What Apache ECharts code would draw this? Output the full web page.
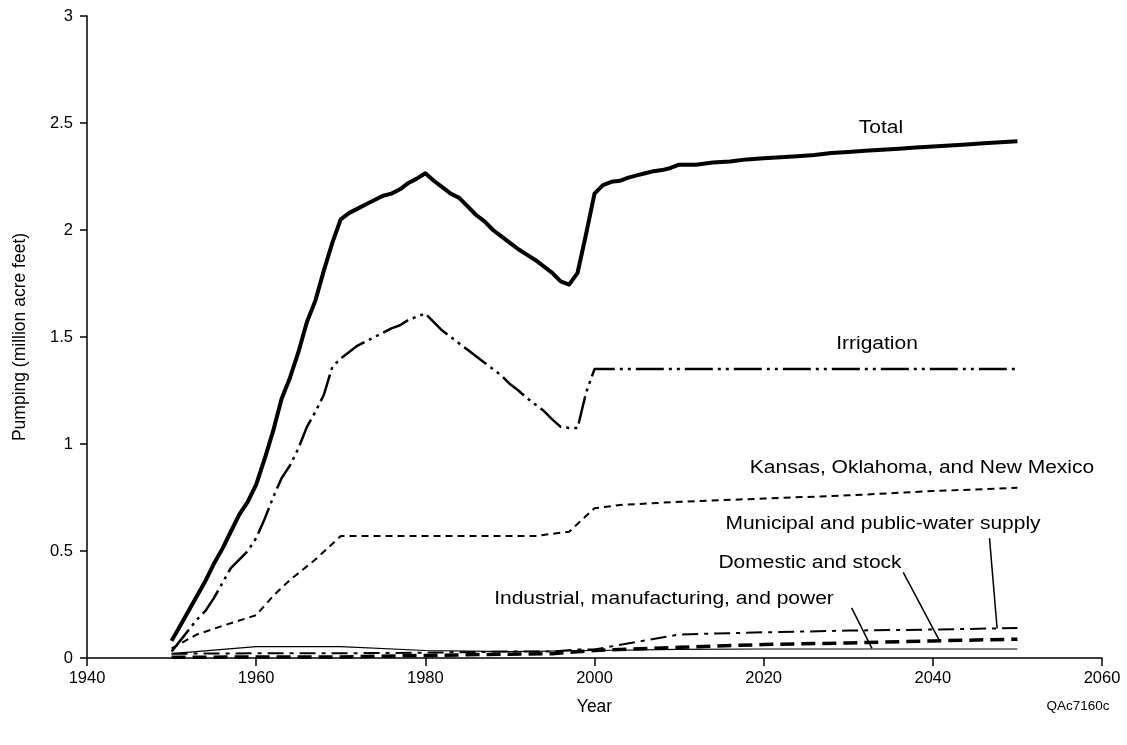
<!DOCTYPE html>
<html>
<head>
<meta charset="utf-8">
<script src="https://cdn.jsdelivr.net/npm/echarts@6/dist/echarts.min.js"></script>
<style>
  html, body { margin: 0; padding: 0; background: #fff; }
  #chart { width: 1127px; height: 745px; }
</style>
</head>
<body>
<div id="chart"></div>
<script>
// years / values
var totalYears = [1950,1951,1952,1953,1954,1955,1956,1957,1958,1959,1960,1961,1962,1963,1964,1965,1966,1967,1968,1969,
  1970,1971,1972,1973,1974,1975,1976,1977,1978,1979,1980,1981,1982,1983,1984,1985,1986,1987,1988,1989,
  1990,1991,1992,1993,1994,1995,1996,1997,1998,1999,2000,2001,2002,2003,2004,2005,2006,2007,2008,2009,
  2010,2012,2014,2016,2018,2020,2022,2024,2026,2028,2030,2032,2034,2036,2038,2040,2042,2044,2046,2048,2050];
var totalValues = [0.08,0.15,0.22,0.29,0.36,0.44,0.51,0.59,0.67,0.73,0.81,0.93,1.06,1.21,1.31,1.43,1.57,1.67,1.81,1.94,
  2.05,2.08,2.10,2.12,2.14,2.16,2.17,2.19,2.22,2.24,2.265,2.23,2.20,2.17,2.15,2.11,2.07,2.04,2.00,1.97,
  1.94,1.91,1.885,1.86,1.83,1.80,1.76,1.745,1.80,1.98,2.17,2.21,2.225,2.23,2.245,2.255,2.265,2.275,2.28,2.29,
  2.305,2.305,2.315,2.32,2.33,2.335,2.34,2.345,2.35,2.36,2.365,2.37,2.375,2.38,2.385,2.39,2.395,2.40,2.405,2.41,2.415];

var irrigationYears = [1950,1951,1952,1953,1954,1955,1956,1957,1958,1959,1960,1961,1962,1963,1964,1965,1966,1967,1968,1969,
  1970,1971,1972,1973,1974,1975,1976,1977,1978,1979,1980,1981,1982,1983,1984,1985,1986,1987,1988,1989,
  1990,1991,1992,1993,1994,1995,1996,1997,1998,1999,2000,2050];
var irrigationValues = [0.03,0.08,0.13,0.18,0.22,0.28,0.35,0.42,0.46,0.50,0.56,0.65,0.75,0.84,0.90,0.98,1.08,1.15,1.23,1.36,
  1.40,1.43,1.46,1.48,1.50,1.52,1.54,1.555,1.58,1.595,1.61,1.57,1.53,1.50,1.47,1.44,1.41,1.38,1.35,1.32,
  1.28,1.25,1.215,1.185,1.155,1.115,1.08,1.075,1.075,1.24,1.35,1.35];

var ksYears = [1950,1953,1956,1960,1962,1964,1967,1970,1993,1997,2000,2003,2010,2020,2030,2040,2050];
var ksValues = [0.045,0.11,0.15,0.20,0.29,0.365,0.46,0.57,0.57,0.59,0.70,0.715,0.73,0.745,0.76,0.78,0.795];

var muniYears = [1950,1960,1970,1980,1990,1995,1998,2000,2010,2020,2030,2040,2050];
var muniValues = [0.02,0.022,0.022,0.025,0.03,0.03,0.04,0.04,0.11,0.12,0.128,0.133,0.14];

var domYears = [1950,1960,1970,1980,1990,1995,2000,2010,2020,2030,2040,2050];
var domValues = [0.003,0.005,0.005,0.012,0.018,0.02,0.035,0.05,0.063,0.07,0.08,0.088];

var indYears = [1950,1960,1970,1980,1990,2000,2010,2020,2050];
var indValues = [0.02,0.053,0.053,0.035,0.03,0.035,0.04,0.042,0.042];

var yTicks = ['0','0.5','1','1.5','2','2.5','3'];
var xTicks = ['1940','1960','1980','2000','2020','2040','2060'];

function pairs(xs, ys) {
  return xs.map(function (x, i) { return [x, ys[i]]; });
}

var FONT = 'Liberation Sans, Arial, sans-serif';

function note(text, cx, cy) {
  return {
    type: 'text', x: cx, y: cy, scaleX: 1.2,
    style: { text: text, x: 0, y: 0, align: 'center', verticalAlign: 'middle',
      fontFamily: FONT, fontSize: 17.5, fill: '#000' }
  };
}

function leader(from, to) {
  return { markLine: {
    silent: true, symbol: 'none', animation: false, label: { show: false },
    lineStyle: { color: '#000', width: 1.5, type: 'solid' },
    data: [[{ coord: from }, { coord: to }]]
  }};
}

var chart = echarts.init(document.getElementById('chart'));

function line(name, xs, ys, width, type, extra) {
  var s = {
    name: name, type: 'line', data: pairs(xs, ys), showSymbol: false, symbol: 'none',
    animation: false, z: 3,
    lineStyle: { color: '#000', width: width, type: type, cap: 'butt', join: 'round' }
  };
  return Object.assign(s, extra || {});
}

chart.setOption({
  backgroundColor: '#fff',
  grid: { left: 87, right: 25, top: 16, bottom: 87 },
  xAxis: {
    type: 'value', min: 1940, max: 2060, interval: 20,
    name: 'Year', nameLocation: 'middle', nameGap: 40,
    nameTextStyle: { fontFamily: FONT, fontSize: 17.5, color: '#000' },
    axisLine: { lineStyle: { color: '#000', width: 1.5 } },
    axisTick: { show: true, inside: false, length: 8, lineStyle: { color: '#000', width: 1.5 } },
    axisLabel: {
      color: '#000', fontFamily: FONT, fontSize: 16.5, margin: 12,
      formatter: function (v) { return xTicks[Math.round((v - 1940) / 20)]; }
    },
    splitLine: { show: false }
  },
  yAxis: {
    type: 'value', min: 0, max: 3, interval: 0.5,
    name: 'Pumping (million acre feet)', nameLocation: 'middle', nameGap: 58, nameRotate: 90,
    nameTextStyle: { fontFamily: FONT, fontSize: 17.5, color: '#000' },
    axisLine: { show: true, lineStyle: { color: '#000', width: 1.5 } },
    axisTick: { show: true, inside: false, length: 7, lineStyle: { color: '#000', width: 1.5 } },
    axisLabel: {
      color: '#000', fontFamily: FONT, fontSize: 16.5, margin: 14,
      formatter: function (v) { return yTicks[Math.round(v * 2)]; }
    },
    splitLine: { show: false }
  },
  series: [
    line('Industrial, manufacturing, and power', indYears, indValues, 1.2, 'solid',
      leader([2030.4, 0.234], [2032.8, 0.045])),
    line('Domestic and stock', domYears, domValues, 3.5, [14, 7],
      leader([2036.5, 0.40], [2040.8, 0.08])),
    line('Municipal and public-water supply', muniYears, muniValues, 2, [16, 6, 4, 6],
      leader([2046.7, 0.56], [2047.6, 0.138])),
    line('Kansas, Oklahoma, and New Mexico', ksYears, ksValues, 2, [7, 5]),
    line('Irrigation', irrigationYears, irrigationValues, 2.5, [28, 5, 3, 5, 3, 5]),
    line('Total', totalYears, totalValues, 4, 'solid')
  ],
  graphic: [
    note('Total', 881, 128),
    note('Irrigation', 877, 344),
    note('Kansas, Oklahoma, and New Mexico', 922, 468),
    note('Municipal and public-water supply', 883, 524),
    note('Domestic and stock', 810, 563),
    note('Industrial, manufacturing, and power', 664, 599),
    {
      type: 'text', x: 1078, y: 706,
      style: { text: 'QAc7160c', x: 0, y: 0, align: 'center', verticalAlign: 'middle',
        fontFamily: FONT, fontSize: 13.5, fill: '#000' }
    }
  ]
});
</script>
</body>
</html>
